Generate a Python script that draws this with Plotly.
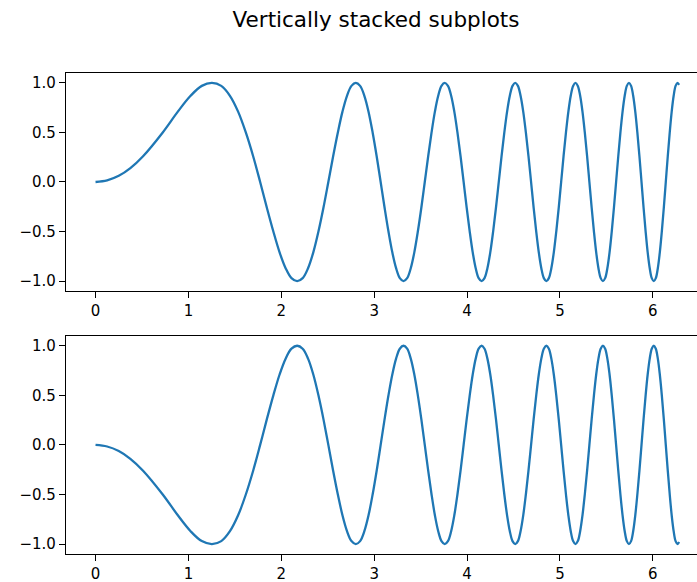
import plotly.graph_objects as go
from plotly.subplots import make_subplots

title_text = "Vertically stacked subplots"

# points read at zero crossings, half/peak levels
x_main = [0.0, 0.125, 0.25, 0.375, 0.7236, 1.0233, 1.2533, 1.4472, 1.6180, 1.7725, 1.9145, 2.0467,
          2.1708, 2.2882, 2.3999, 2.5066, 2.6090, 2.7075, 2.8025, 2.8944, 2.9835,
          3.0700, 3.1541, 3.2361, 3.3160, 3.3940, 3.4703, 3.5449, 3.6180, 3.6897,
          3.7600, 3.8290, 3.8967, 3.9633, 4.0289, 4.0933, 4.1568, 4.2193, 4.2809,
          4.3416, 4.4015, 4.4606, 4.5189, 4.5764, 4.6333, 4.6895, 4.7450, 4.7998,
          4.8541, 4.9077, 4.9608, 5.0133, 5.0652, 5.1166, 5.1675, 5.2180, 5.2679,
          5.3174, 5.3664, 5.4149, 5.4631, 5.5108, 5.5581, 5.6050, 5.6515, 5.6976,
          5.7434, 5.7888, 5.8338, 5.8785, 5.9229, 5.9670, 6.0107, 6.0541, 6.0972,
          6.1400, 6.1825, 6.2247, 6.2666, 6.2832]
y_main = [0.0, 0.016, 0.062, 0.14, 0.5, 0.87, 1.0, 0.87, 0.5, 0.0, -0.5, -0.87,
          -1.0, -0.87, -0.5, 0.0, 0.5, 0.87, 1.0, 0.87, 0.5,
          0.0, -0.5, -0.87, -1.0, -0.87, -0.5, 0.0, 0.5, 0.87,
          1.0, 0.87, 0.5, 0.0, -0.5, -0.87, -1.0, -0.87, -0.5,
          0.0, 0.5, 0.87, 1.0, 0.87, 0.5, 0.0, -0.5, -0.87,
          -1.0, -0.87, -0.5, 0.0, 0.5, 0.87, 1.0, 0.87, 0.5,
          0.0, -0.5, -0.87, -1.0, -0.87, -0.5, 0.0, 0.5, 0.87,
          1.0, 0.87, 0.5, 0.0, -0.5, -0.87, -1.0, -0.87, -0.5,
          0.0, 0.5, 0.87, 1.0, 0.98]

# in-between points
x_mid = [0.5117, 0.8862, 1.1441, 1.3537, 1.5350, 1.6970, 1.8448, 1.9817, 2.1097, 2.2303,
         2.3447, 2.4539, 2.5583, 2.6587, 2.7554, 2.8488, 2.9393, 3.0270, 3.1124, 3.1954,
         3.2762, 3.3552, 3.4324, 3.5078, 3.5817, 3.6540, 3.7250, 3.7946, 3.8630, 3.9302,
         3.9962, 4.0612, 4.1252, 4.1882, 4.2502, 4.3114, 4.3717, 4.4312, 4.4898, 4.5478,
         4.6050, 4.6615, 4.7173, 4.7725, 4.8270, 4.8810, 4.9343, 4.9871, 5.0393, 5.0910,
         5.1422, 5.1928, 5.2430, 5.2927, 5.3419, 5.3907, 5.4391, 5.4870, 5.5345, 5.5816,
         5.6283, 5.6746, 5.7206, 5.7662, 5.8114, 5.8563, 5.9008, 5.9450, 5.9889, 6.0324,
         6.0757, 6.1186, 6.1613, 6.2036, 6.2456]
y_mid = [0.26, 0.71, 0.97, 0.97, 0.71, 0.26, -0.26, -0.71, -0.97, -0.97, -0.71, -0.26,
         0.26, 0.71, 0.97, 0.97, 0.71, 0.26, -0.26, -0.71, -0.97, -0.97, -0.71, -0.26,
         0.26, 0.71, 0.97, 0.97, 0.71, 0.26, -0.26, -0.71, -0.97, -0.97, -0.71, -0.26,
         0.26, 0.71, 0.97, 0.97, 0.71, 0.26, -0.26, -0.71, -0.97, -0.97, -0.71, -0.26,
         0.26, 0.71, 0.97, 0.97, 0.71, 0.26, -0.26, -0.71, -0.97, -0.97, -0.71, -0.26,
         0.26, 0.71, 0.97, 0.97, 0.71, 0.26, -0.26, -0.71, -0.97, -0.97, -0.71, -0.26,
         0.26, 0.71, 0.97]

x_ticks = [0, 1, 2, 3, 4, 5, 6]
y_ticks = [-1.0, -0.5, 0.0, 0.5, 1.0]

pairs = sorted(list(zip(x_main, y_main)) + list(zip(x_mid, y_mid)))
x_vals = [p[0] for p in pairs]
y_top = [p[1] for p in pairs]
y_bottom = [-v for v in y_top]

fig = make_subplots(rows=2, cols=1)
line_style = dict(color="#1f77b4", width=2.3, shape="spline", smoothing=1.0)
fig.add_trace(go.Scatter(x=x_vals, y=y_top, mode="lines", line=line_style), row=1, col=1)
fig.add_trace(go.Scatter(x=x_vals, y=y_bottom, mode="lines", line=line_style), row=2, col=1)

axis_font = dict(family="DejaVu Sans", size=15, color="#000000")
for r in (1, 2):
    fig.update_xaxes(row=r, col=1, range=[-0.318, 6.476], tickvals=x_ticks,
                     showgrid=False, zeroline=False, showline=True, linecolor="#000000",
                     linewidth=1.2, mirror=True, ticks="outside", ticklen=6,
                     tickcolor="#000000", tickwidth=1.2, tickfont=axis_font)
    fig.update_yaxes(row=r, col=1, range=[-1.1, 1.1], tickvals=y_ticks, tickformat=".1f",
                     showgrid=False, zeroline=False, showline=True, linecolor="#000000",
                     linewidth=1.2, mirror=False, ticks="outside", ticklen=6,
                     tickcolor="#000000", tickwidth=1.2, tickfont=axis_font)

fig.update_layout(
    xaxis=dict(domain=[0, 1]), xaxis2=dict(domain=[0, 1]),
    yaxis=dict(domain=[0.5468, 1.0]), yaxis2=dict(domain=[0.0, 0.4536]),
)

fig.update_layout(
    width=697, height=582,
    margin=dict(l=66, r=0, t=73, b=28),
    paper_bgcolor="white", plot_bgcolor="white",
    showlegend=False,
    title=dict(text=title_text, x=376 / 697, xref="container", xanchor="center",
               y=1 - 19 / 582, yref="container", yanchor="middle",
               font=dict(family="DejaVu Sans", size=21.5, color="#000000")),
)

fig.write_html("out.html")
